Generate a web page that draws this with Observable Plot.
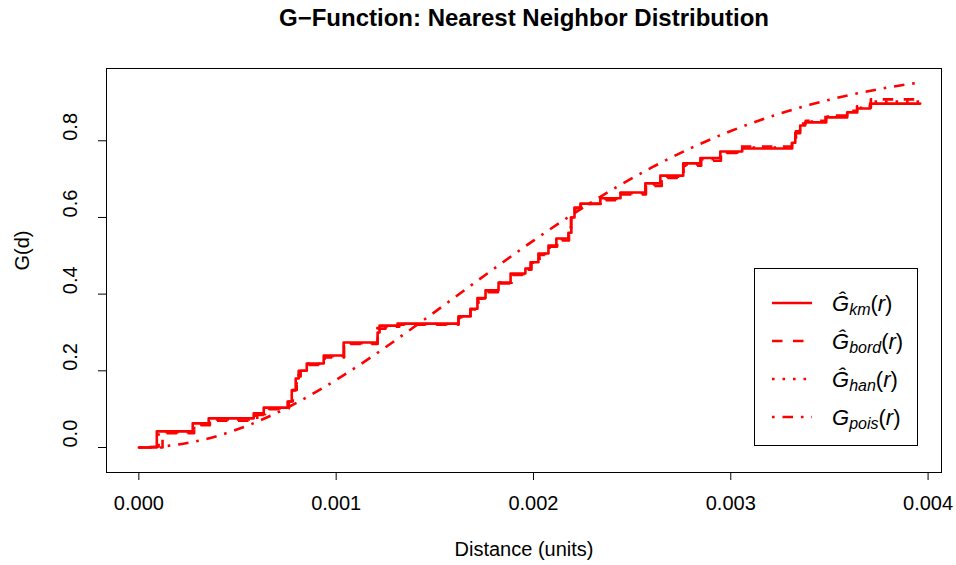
<!DOCTYPE html>
<html>
<head>
<meta charset="utf-8">
<script src="https://cdn.jsdelivr.net/npm/d3@7"></script>
<script src="https://cdn.jsdelivr.net/npm/@observablehq/plot@0.6"></script>
<style>
  html, body { margin: 0; padding: 0; background: #fff; }
  svg { font-family: "Liberation Sans", Arial, Helvetica, sans-serif; }
</style>
</head>
<body>
<script>
// ---- data ----
const titleText = "G\u2212Function: Nearest Neighbor Distribution";
const xLabel = "Distance (units)";
const yLabel = "G(d)";
const xTicks = [0, 0.001, 0.002, 0.003, 0.004];
const xTickLabels = ["0.000", "0.001", "0.002", "0.003", "0.004"];
const yTicks = [0, 0.2, 0.4, 0.6, 0.8];
const yTickLabels = ["0.0", "0.2", "0.4", "0.6", "0.8"];

// Kaplan-Meier estimate (solid), step breakpoints
const kmR = [0, 0.000091, 0.000273, 0.000354, 0.000582, 0.000633, 0.000754, 0.000775, 0.000795, 0.00081,
  0.000851, 0.000937, 0.001038, 0.00121, 0.00122, 0.001311, 0.00162, 0.001681, 0.001716, 0.001757,
  0.001823, 0.001884, 0.001959, 0.001985, 0.002025, 0.002076, 0.002116, 0.002177, 0.002192, 0.002208,
  0.002238, 0.002339, 0.002441, 0.002567, 0.002643, 0.002759, 0.002846, 0.002947, 0.003058, 0.003311,
  0.003327, 0.003352, 0.003377, 0.003484, 0.00359, 0.003641, 0.003706, 0.00396];
const kmG = [0, 0.042, 0.063, 0.076, 0.089, 0.104, 0.12, 0.149, 0.18, 0.2,
  0.219, 0.24, 0.274, 0.3, 0.318, 0.323, 0.342, 0.362, 0.39, 0.41,
  0.43, 0.454, 0.467, 0.483, 0.506, 0.527, 0.545, 0.56, 0.6, 0.626,
  0.636, 0.65, 0.665, 0.689, 0.709, 0.741, 0.755, 0.772, 0.78, 0.795,
  0.82, 0.84, 0.848, 0.861, 0.874, 0.884, 0.897, 0.897];

// Border-corrected estimate (dashed)
const bordR = [0, 0.00012, 0.00028, 0.00036, 0.0006, 0.00065, 0.00076, 0.00078, 0.0008, 0.00082,
  0.00086, 0.00094, 0.00104, 0.00121, 0.00125, 0.00132, 0.00162, 0.00168, 0.00172, 0.00176,
  0.00182, 0.00189, 0.00196, 0.00199, 0.00203, 0.00208, 0.00212, 0.00218, 0.00219, 0.00221,
  0.00224, 0.00234, 0.00244, 0.00257, 0.00265, 0.00276, 0.00285, 0.00295, 0.00303, 0.00331,
  0.00333, 0.00335, 0.00338, 0.00348, 0.00359, 0.00364, 0.00371, 0.00396];
const bordG = [0, 0.037, 0.058, 0.07, 0.085, 0.1, 0.12, 0.15, 0.185, 0.2,
  0.215, 0.235, 0.27, 0.31, 0.315, 0.32, 0.338, 0.36, 0.388, 0.405,
  0.428, 0.45, 0.464, 0.48, 0.502, 0.524, 0.54, 0.556, 0.598, 0.624,
  0.635, 0.645, 0.66, 0.682, 0.703, 0.735, 0.748, 0.768, 0.785, 0.8,
  0.825, 0.845, 0.852, 0.866, 0.878, 0.89, 0.908, 0.908];

// Hanisch estimate (dotted)
const hanR = [0, 0.0001, 0.00028, 0.00036, 0.00059, 0.00064, 0.00076, 0.00078, 0.0008, 0.00081,
  0.00085, 0.00094, 0.00104, 0.00121, 0.00131, 0.00162, 0.00168, 0.00172, 0.00176, 0.00182,
  0.00189, 0.00196, 0.00199, 0.00203, 0.00208, 0.00212, 0.00218, 0.00219, 0.00221, 0.00224,
  0.00234, 0.00244, 0.00257, 0.00265, 0.00276, 0.00285, 0.00295, 0.00306, 0.00331, 0.00333,
  0.00335, 0.00338, 0.00348, 0.00359, 0.00364, 0.00371, 0.00396];
const hanG = [0, 0.04, 0.06, 0.073, 0.087, 0.102, 0.12, 0.15, 0.182, 0.2,
  0.218, 0.238, 0.272, 0.316, 0.322, 0.34, 0.36, 0.389, 0.408, 0.43,
  0.452, 0.466, 0.482, 0.505, 0.526, 0.543, 0.558, 0.6, 0.625, 0.635,
  0.648, 0.663, 0.686, 0.706, 0.738, 0.752, 0.77, 0.782, 0.797, 0.822,
  0.842, 0.85, 0.863, 0.876, 0.886, 0.902, 0.902];

// Poisson theoretical (dot-dash)
const poisR = [0, 0.0002, 0.0004, 0.0006, 0.0008, 0.001, 0.0012, 0.0014, 0.0016, 0.0018,
  0.002, 0.0022, 0.0024, 0.0026, 0.0028, 0.003, 0.0032, 0.0034, 0.0036, 0.0038, 0.00396];
const poisG = [0, 0.0077, 0.0305, 0.0674, 0.1167, 0.1763, 0.2436, 0.3162, 0.3913, 0.4664,
  0.5396, 0.6088, 0.6727, 0.7304, 0.7814, 0.8254, 0.8627, 0.8937, 0.919, 0.9392, 0.9522];

const zip = (rs, gs) => rs.map((r, i) => ({r, g: gs[i]}));
const km = zip(kmR, kmG), bord = zip(bordR, bordG), han = zip(hanR, hanG), pois = zip(poisR, poisG);

const RED = "#FF0000";
const LW = 2.6;
const FS = 20;

const chart = Plot.plot({
  width: 956,
  height: 565,
  marginLeft: 106,
  marginRight: 15,
  marginTop: 68,
  marginBottom: 93,
  style: {background: "#fff", fontFamily: '"Liberation Sans", Arial, Helvetica, sans-serif'},
  x: {domain: [-0.000164, 0.004068]},
  y: {domain: [-0.0652, 0.9885]},
  marks: [
    Plot.line(km, {x: "r", y: "g", curve: "step-after", stroke: RED, strokeWidth: LW}),
    Plot.line(bord, {x: "r", y: "g", curve: "step-after", stroke: RED, strokeWidth: LW, strokeDasharray: "10.5,10.5", strokeLinecap: "butt"}),
    Plot.line(han, {x: "r", y: "g", curve: "step-after", stroke: RED, strokeWidth: LW, strokeDasharray: "2.6,7.9", strokeLinecap: "butt"}),
    Plot.line(pois, {x: "r", y: "g", curve: "monotone-x", stroke: RED, strokeWidth: LW, strokeDasharray: "2.6,7.9,10.5,7.9", strokeLinecap: "butt"}),
    Plot.frame({stroke: "black", strokeWidth: 1}),
    Plot.axisX({ticks: xTicks, tickSize: 8, tickFormat: () => "", label: null, stroke: "black"}),
    Plot.axisY({ticks: yTicks, tickSize: 8, tickFormat: () => "", label: null, stroke: "black"}),
    Plot.text(xTicks, {x: d => d, text: (d, i) => xTickLabels[i], frameAnchor: "bottom", dy: 31, lineAnchor: "middle", fontSize: FS, fill: "black"}),
    Plot.text(yTicks, {y: d => d, text: (d, i) => yTickLabels[i], frameAnchor: "left", dx: -36, rotate: -90, lineAnchor: "middle", fontSize: FS, fill: "black"}),
    Plot.text([xLabel], {text: d => d, frameAnchor: "bottom", dy: 77, lineAnchor: "middle", fontSize: FS, fill: "black"}),
    Plot.text([yLabel], {text: d => d, frameAnchor: "left", dx: -84, rotate: -90, lineAnchor: "middle", fontSize: FS, fill: "black"}),
    Plot.text([titleText], {text: d => d, frameAnchor: "top", dy: -50, lineAnchor: "middle", fontSize: 24, fontWeight: "bold", fill: "black"})
  ]
});
document.body.appendChild(chart);

// ---- legend ----
const legendItems = [
  {base: "\u011C", sub: "km", dash: null},
  {base: "\u011C", sub: "bord", dash: "10.5,10.5"},
  {base: "\u011C", sub: "han", dash: "2.6,7.9"},
  {base: "G", sub: "pois", dash: "2.6,7.9,10.5,7.9"}
];
const svg = d3.select(chart);
const lg = svg.append("g").attr("text-anchor", "start");
lg.append("rect").attr("x", 754.5).attr("y", 268.5).attr("width", 163).attr("height", 177)
  .attr("fill", "white").attr("stroke", "black").attr("stroke-width", 1);
const rowY = [303, 341, 379, 417];
legendItems.forEach((it, i) => {
  const y = rowY[i];
  lg.append("line").attr("x1", 772).attr("x2", 812).attr("y1", y).attr("y2", y)
    .attr("stroke", RED).attr("stroke-width", LW)
    .attr("stroke-dasharray", it.dash).attr("stroke-linecap", "butt");
  const t = lg.append("text").attr("x", 832).attr("y", y + 8).attr("font-size", 22).attr("fill", "black")
    .attr("text-anchor", "start")
    .attr("font-family", '"Liberation Sans", Arial, Helvetica, sans-serif');
  t.append("tspan").attr("font-style", "italic").text(it.base);
  t.append("tspan").attr("font-style", "italic").attr("font-size", 16).attr("dy", 4).text(it.sub);
  t.append("tspan").attr("dy", -4).text("(");
  t.append("tspan").attr("font-style", "italic").text("r");
  t.append("tspan").text(")");
});
</script>
</body>
</html>
